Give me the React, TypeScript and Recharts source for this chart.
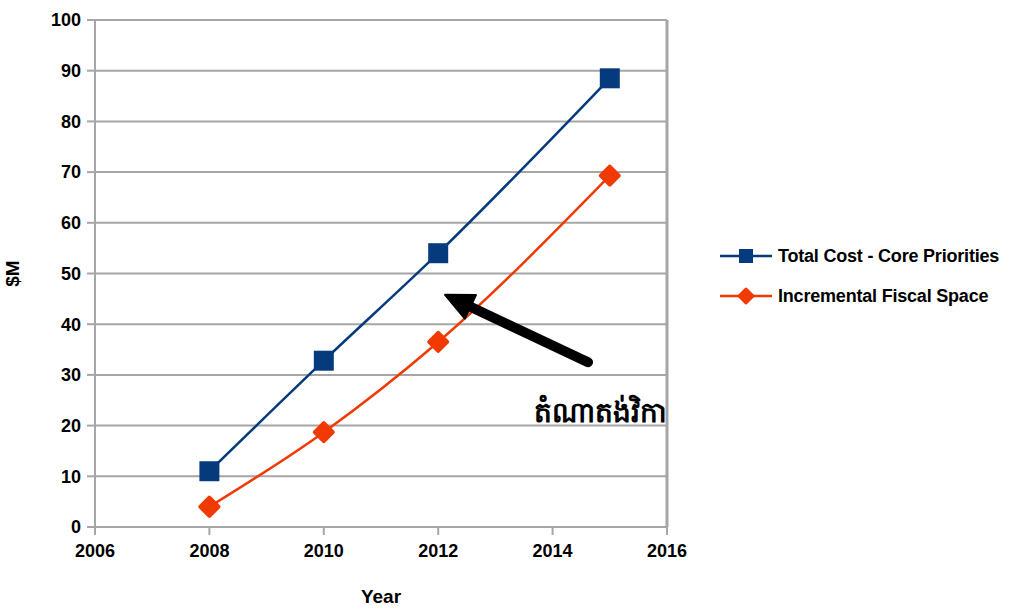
import { LineChart, Line, XAxis, YAxis, CartesianGrid, Legend, ReferenceLine, ReferenceDot } from "recharts";

const years = [2008, 2010, 2012, 2015];
const totalCost = [11, 32.8, 54, 88.5];
const fiscalSpace = [4, 18.7, 36.5, 69.3];
const xTicks = [2006, 2008, 2010, 2012, 2014, 2016];
const yTicks = [0, 10, 20, 30, 40, 50, 60, 70, 80, 90, 100];
const seriesNames = ["Total Cost - Core Priorities", "Incremental Fiscal Space"];
const arrowFrom = { x: 2014.62, y: 32.5 };
const arrowTo = { x: 2012.12, y: 45.8 };
const noteAt = { x: 2014.83, y: 22.7, text: "តំណាតង់វិកា" };

const BLUE = "#053b7c";
const ORANGE = "#f03a02";
const GRID = "#a6a6a6";
const FONT = "'Liberation Sans', Arial, sans-serif";

const data = years.map((year, i) => ({
  year,
  total: totalCost[i],
  fiscal: fiscalSpace[i],
}));

const SquareDot = (props: any) => {
  const { cx, cy, index } = props;
  return <rect key={`sq-${index}`} x={cx - 10} y={cy - 10} width={20} height={20} fill={BLUE} />;
};

const DiamondDot = (props: any) => {
  const { cx, cy, index } = props;
  return (
    <path
      key={`dm-${index}`}
      d={`M${cx},${cy - 9} L${cx + 9},${cy} L${cx},${cy + 9} L${cx - 9},${cy} Z`}
      fill={ORANGE}
      stroke={ORANGE}
      strokeWidth={4}
      strokeLinejoin="round"
    />
  );
};

const ArrowShape = (props: any) => {
  const { x1, y1, x2, y2 } = props;
  const dx = x2 - x1;
  const dy = y2 - y1;
  const len = Math.sqrt(dx * dx + dy * dy);
  const ux = dx / len;
  const uy = dy / len;
  const head = 28;
  const half = 13;
  const bx = x2 - ux * head;
  const by = y2 - uy * head;
  return (
    <g>
      <line x1={x1} y1={y1} x2={bx + ux * 4} y2={by + uy * 4} stroke="#000" strokeWidth={10} strokeLinecap="round" />
      <polygon
        points={`${x2},${y2} ${bx - uy * half},${by + ux * half} ${bx + uy * half},${by - ux * half}`}
        fill="#000"
        stroke="#000"
        strokeWidth={2}
        strokeLinejoin="round"
      />
    </g>
  );
};

const LegendContent = () => (
  <div style={{ fontFamily: FONT, fontWeight: "bold", fontSize: 18, color: "#000", whiteSpace: "nowrap", width: 292 }}>
    {seriesNames.map((name, i) => (
      <div key={name} style={{ display: "flex", alignItems: "center", height: 40 }}>
        <svg width={54} height={20} style={{ marginRight: 4, flexShrink: 0 }}>
          <line x1={0} y1={10} x2={52} y2={10} stroke={i === 0 ? BLUE : ORANGE} strokeWidth={2.5} />
          {i === 0 ? (
            <rect x={19} y={3} width={14} height={14} fill={BLUE} />
          ) : (
            <path d="M26,3 L33,10 L26,17 L19,10 Z" fill={ORANGE} stroke={ORANGE} strokeWidth={3} strokeLinejoin="round" />
          )}
        </svg>
        <span style={{ letterSpacing: -0.2 }}>{name}</span>
      </div>
    ))}
  </div>
);

const tickStyle = { fontFamily: FONT, fontWeight: "bold", fontSize: 18, fill: "#000" };

export default function App() {
  return (
    <div style={{ position: "absolute", left: 0, top: 0, width: 1012, height: 609, background: "#fff" }}>
      <LineChart width={1012} height={609} data={data} margin={{ top: 20, right: 345, left: 10, bottom: 2 }}>
        <CartesianGrid vertical={false} stroke={GRID} strokeWidth={2} />
        <XAxis
          dataKey="year"
          type="number"
          domain={[2006, 2016]}
          ticks={xTicks}
          height={80}
          stroke={GRID}
          strokeWidth={2}
          tickSize={8}
          tickMargin={9}
          tick={tickStyle}
          label={{ value: "Year", position: "insideBottom", offset: 4, style: { ...tickStyle, fontSize: 19 } }}
        />
        <YAxis
          type="number"
          domain={[0, 100]}
          ticks={yTicks}
          width={85}
          stroke={GRID}
          strokeWidth={2}
          tickSize={8}
          tickMargin={6}
          tick={tickStyle}
          label={{ value: "$M", angle: -90, position: "insideLeft", offset: 2, style: { ...tickStyle, fontSize: 19, textAnchor: "middle" } }}
        />
        <ReferenceLine x={2016} stroke={GRID} strokeWidth={3} />
        <Line
          type="monotone"
          dataKey="total"
          name={seriesNames[0]}
          stroke={BLUE}
          strokeWidth={2.5}
          dot={SquareDot}
          activeDot={false}
          isAnimationActive={false}
        />
        <Line
          type="monotone"
          dataKey="fiscal"
          name={seriesNames[1]}
          stroke={ORANGE}
          strokeWidth={2.5}
          dot={DiamondDot}
          activeDot={false}
          isAnimationActive={false}
        />
        <ReferenceLine segment={[arrowFrom, arrowTo]} shape={ArrowShape} />
        <ReferenceDot
          x={noteAt.x}
          y={noteAt.y}
          r={0}
          fill="none"
          stroke="none"
          label={{ value: noteAt.text, position: "center", style: { fontSize: 28, fontWeight: "bold", fill: "#000", fontFamily: "serif" } }}
        />
        <Legend
          content={LegendContent}
          wrapperStyle={{ left: 720, top: 236, width: 0, height: 0, overflow: "visible" }}
        />
      </LineChart>
    </div>
  );
}
